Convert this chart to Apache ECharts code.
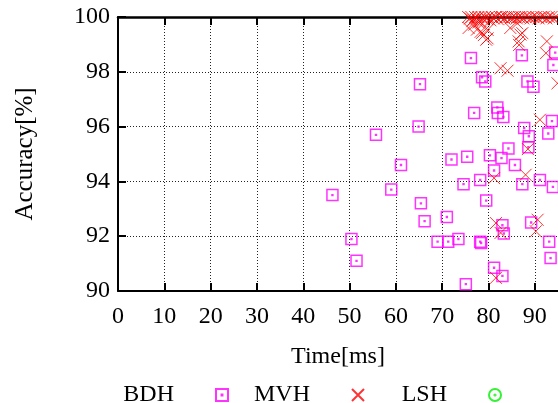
<!DOCTYPE html>
<html>
<head>
<meta charset="utf-8">
<script src="https://cdn.jsdelivr.net/npm/echarts@6/dist/echarts.min.js"></script>
<style>
html,body{margin:0;padding:0;background:#fff;}
#chart{width:558px;height:403px;}
</style>
</head>
<body>
<div id="chart"></div>
<script>
// ---- data ----
const seriesNames = ['BDH', 'MVH', 'LSH'];
const xTicks = [0, 10, 20, 30, 40, 50, 60, 70, 80, 90];
const yTicks = [90, 92, 94, 96, 98, 100];

// BDH: [time ms, accuracy %]
const bdhPoints = [
  [46.3, 93.5], [50.4, 91.9], [51.5, 91.1], [55.7, 95.7], [59.0, 93.7],
  [61.1, 94.6], [64.9, 96.0], [65.2, 97.55], [65.4, 93.2], [66.2, 92.55],
  [69.0, 91.8], [71.0, 92.7], [71.3, 91.8], [72.0, 94.8], [73.5, 91.9],
  [74.6, 93.9], [75.1, 90.25], [75.4, 94.9], [76.2, 98.5], [76.9, 96.5],
  [78.2, 94.05], [78.2, 91.8], [78.4, 91.75], [78.6, 97.8], [79.3, 97.65],
  [79.5, 93.3], [80.3, 94.95], [81.2, 94.4], [81.2, 90.85], [81.9, 96.7],
  [82.0, 96.5], [82.8, 94.85], [83.0, 92.4], [83.3, 92.1], [83.0, 90.55],
  [83.2, 96.35], [84.3, 95.2], [85.7, 94.6], [87.2, 98.6], [87.3, 93.9],
  [87.7, 95.95], [88.4, 97.65], [88.6, 95.25], [88.7, 95.65], [89.2, 92.5],
  [89.7, 97.45], [91.1, 94.05], [92.9, 95.75], [93.1, 91.8], [93.4, 91.2],
  [93.7, 96.2], [93.9, 93.8], [94.0, 98.25], [94.4, 98.7]
];

// MVH: [time ms, accuracy %]
const mvhPoints = [
  [75.6, 100], [76.0, 99.95], [76.3, 100], [76.7, 99.9], [77.1, 100],
  [77.4, 99.95], [77.8, 100], [78.1, 99.85], [78.5, 100], [78.9, 99.9],
  [79.2, 100], [79.6, 99.95], [80.0, 100], [80.4, 99.88], [80.7, 100],
  [81.1, 99.95], [81.6, 100], [82.0, 99.92], [82.5, 100], [82.9, 100],
  [83.4, 99.95], [83.8, 100], [84.3, 100], [84.8, 99.95], [85.2, 100],
  [85.7, 100], [86.1, 99.95], [86.6, 100], [87.1, 100], [87.5, 99.95],
  [88.0, 100], [88.6, 100], [89.1, 99.95], [89.7, 100], [90.3, 100],
  [90.8, 99.95], [91.4, 100], [91.9, 100], [92.5, 99.95], [93.0, 100],
  [93.6, 100], [94.1, 99.95], [94.7, 100], [76.5, 99.85], [77.8, 99.8],
  [75.7, 99.6], [76.9, 99.72], [77.5, 99.54], [78.3, 99.46], [78.6, 99.42],
  [79.0, 99.34], [79.5, 99.17], [79.8, 99.53], [79.8, 99.22], [82.6, 98.13],
  [84.1, 98.04], [84.7, 99.6], [86.2, 99.77], [86.5, 99.11], [86.6, 98.98],
  [86.9, 99.36], [87.3, 99.41], [92.4, 98.68], [92.6, 99.11], [94.9, 97.58],
  [91.1, 96.25], [88.5, 95.18], [81.2, 94.12], [88.0, 94.24], [81.6, 92.48],
  [90.6, 92.6], [82.6, 92.12], [90.2, 92.18], [81.6, 90.48]
];

// LSH: no points fall inside the visible range of the reference
const lshPoints = [];

// ---- chart ----
const FONT = '"Liberation Serif", "DejaVu Serif", serif';
const chart = echarts.init(document.getElementById('chart'), null, {renderer: 'canvas'});

const squareDot = 'path://M0,0L10,0L10,10L0,10Z M4.6,4.6L5.4,4.6L5.4,5.4L4.6,5.4Z';
const cross = 'path://M0,0L10,10M10,0L0,10';
const circleDot = 'path://M10,5A5,5,0,1,1,0,5A5,5,0,1,1,10,5Z M5.5,5A0.5,0.5,0,1,1,4.5,5A0.5,0.5,0,1,1,5.5,5Z';

const tickText = {fontFamily: FONT, fontSize: 24, color: '#000'};
const nameText = {fontFamily: FONT, fontSize: 24, color: '#000'};

function legendItem(name, iconRight) {
  return {
    data: [name], right: 558 - iconRight, top: 383, padding: 0,
    align: 'right', orient: 'horizontal',
    itemWidth: 12, itemHeight: 12, selectedMode: false,
    textStyle: {fontFamily: FONT, fontSize: 24, color: '#000', padding: [0, 37, 0, 0]}
  };
}

const option = {
  animation: false,
  backgroundColor: '#fff',
  grid: {left: 118, right: 0, top: 17, bottom: 112, containLabel: false},
  xAxis: [{
    type: 'value', min: xTicks[0], max: 95, interval: 10, position: 'bottom',
    name: 'Time[ms]', nameLocation: 'middle', nameGap: 54,
    nameTextStyle: nameText,
    axisLine: {show: true, lineStyle: {color: '#000', width: 2}},
    axisTick: {show: true, inside: true, length: 8, lineStyle: {color: '#000', width: 2}},
    axisLabel: Object.assign({margin: 14, showMaxLabel: false}, tickText),
    splitLine: {show: true, lineStyle: {type: [1, 2], color: '#222', width: 1}}
  }, {
    type: 'value', min: xTicks[0], max: 95, interval: 10, position: 'top',
    axisLine: {show: true, lineStyle: {color: '#000', width: 2.5}},
    axisTick: {show: true, inside: true, length: 8, lineStyle: {color: '#000', width: 2}},
    axisLabel: {show: false},
    splitLine: {show: false}
  }],
  yAxis: [{
    type: 'value', min: yTicks[0], max: yTicks[yTicks.length - 1], interval: 2,
    name: 'Accuracy[%]', nameLocation: 'middle', nameGap: 80, nameRotate: 90,
    nameTextStyle: Object.assign({}, nameText, {fontSize: 25}),
    axisLine: {show: true, lineStyle: {color: '#000', width: 2}},
    axisTick: {show: true, inside: true, length: 8, lineStyle: {color: '#000', width: 2}},
    axisLabel: Object.assign({margin: 8}, tickText),
    splitLine: {show: true, lineStyle: {type: [1, 2], color: '#222', width: 1}}
  }],
  legend: [
    legendItem(seriesNames[0], 229),
    legendItem(seriesNames[1], 365),
    legendItem(seriesNames[2], 502)
  ],
  series: [{
    name: seriesNames[0], type: 'scatter', data: bdhPoints,
    symbol: squareDot, symbolSize: 11,
    itemStyle: {color: 'rgba(0,0,0,0)', borderColor: '#ff00ff', borderWidth: 1.5}
  }, {
    name: seriesNames[1], type: 'scatter', data: mvhPoints,
    symbol: cross, symbolSize: 12,
    itemStyle: {color: 'rgba(0,0,0,0)', borderColor: '#ff0000', borderWidth: 1}
  }, {
    name: seriesNames[2], type: 'scatter', data: lshPoints,
    symbol: circleDot, symbolSize: 11,
    itemStyle: {color: 'rgba(0,0,0,0)', borderColor: '#00ee00', borderWidth: 1}
  }]
};
chart.setOption(option);
</script>
</body>
</html>
